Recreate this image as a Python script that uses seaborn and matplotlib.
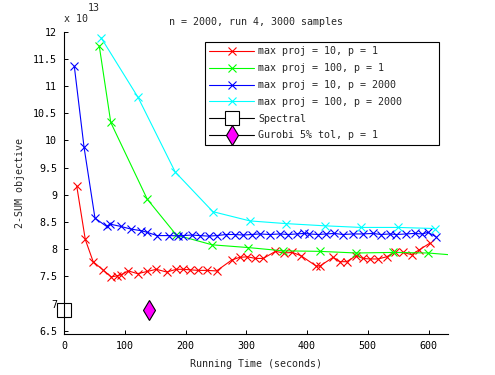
import numpy as np
import pandas as pd
import seaborn as sns
import matplotlib
matplotlib.use('Agg')
import matplotlib.pyplot as plt
from matplotlib.ticker import FormatStrFormatter

# values (y in units of 1e13)
red_t = [21, 35, 48, 64, 78, 87, 94, 106, 121, 137, 152, 169, 185, 196, 208, 221, 235, 251,
         276, 289, 302, 315, 328, 348, 362, 376, 390, 415, 421, 443, 454, 465, 481, 492,
         503, 517, 531, 544, 558, 572, 585, 602]
red_y = [9.16, 8.18, 7.77, 7.62, 7.49, 7.51, 7.53, 7.60, 7.55, 7.59, 7.63, 7.58, 7.63, 7.63,
         7.62, 7.61, 7.61, 7.60, 7.80, 7.85, 7.86, 7.83, 7.83, 7.96, 7.93, 7.94, 7.88, 7.69,
         7.69, 7.85, 7.77, 7.77, 7.88, 7.83, 7.82, 7.82, 7.86, 7.94, 7.94, 7.90, 7.99, 8.11]

green_t = [58, 77, 137, 185, 244, 303, 360, 421, 481, 541, 599, 632]
green_y = [11.74, 10.33, 8.92, 8.26, 8.08, 8.03, 7.97, 7.96, 7.93, 7.94, 7.93, 7.90]

blue_t = [17, 33, 51, 70, 76, 93, 110, 127, 137, 153, 172, 188, 196, 210, 224, 238, 251, 267,
          281, 295, 309, 322, 339, 355, 369, 383, 395, 404, 418, 432, 445, 459, 475, 492, 508,
          522, 536, 547, 563, 577, 590, 599, 612]
blue_y = [11.36, 9.875, 8.57, 8.42, 8.46, 8.42, 8.37, 8.34, 8.31, 8.25, 8.25, 8.245, 8.25, 8.26,
          8.25, 8.24, 8.25, 8.27, 8.27, 8.26, 8.27, 8.28, 8.27, 8.28, 8.27, 8.28, 8.29, 8.28,
          8.27, 8.28, 8.29, 8.27, 8.28, 8.28, 8.29, 8.27, 8.28, 8.27, 8.28, 8.29, 8.28, 8.31, 8.23]

cyan_t = [61, 122, 183, 245, 306, 366, 429, 489, 550, 610]
cyan_y = [11.89, 10.79, 9.42, 8.69, 8.52, 8.47, 8.43, 8.40, 8.40, 8.38]

spectral_t = [0]
spectral_y = [6.88]
gurobi_t = [140]
gurobi_y = [6.88]

sns.set_style('white')
plt.rcParams['font.family'] = ['DejaVu Sans Mono']
FS = 7.2
plt.rcParams['font.size'] = FS

fig = plt.figure(figsize=(4.95, 3.75), dpi=100)
ax = fig.add_axes([64 / 495, 41 / 375, 384 / 495, 302.3 / 375])

series = [
    (red_t, red_y, '#ff0000', 'max proj = 10, p = 1'),
    (green_t, green_y, '#00ff00', 'max proj = 100, p = 1'),
    (blue_t, blue_y, '#0000ff', 'max proj = 10, p = 2000'),
    (cyan_t, cyan_y, '#00ffff', 'max proj = 100, p = 2000'),
]
for t, y, c, lab in series:
    extra = {}
    if c == '#00ff00':
        extra['markevery'] = list(range(len(t) - 1))
    sns.lineplot(x=t, y=y, ax=ax, color=c, marker='x', markersize=6, mec=c, mew=0.8, lw=0.8,
                 label=lab, sort=False, estimator=None, **extra)

sns.lineplot(x=spectral_t, y=spectral_y, ax=ax, color='black', marker='s', markersize=10,
             mfc='white', mec='black', mew=0.8, lw=0.8, label='Spectral', clip_on=False)
sns.lineplot(x=gurobi_t, y=gurobi_y, ax=ax, color='black', marker='d', markersize=10,
             mfc='#ff00ff', mec='black', mew=0.8, lw=0.8, label='Gurobi 5% tol, p = 1')

ax.set_xlim(0, 632)
ax.set_ylim(6.44, 12)
ax.set_xticks(np.arange(0, 601, 100))
ax.set_yticks(np.arange(6.5, 12.01, 0.5))
ax.yaxis.set_major_formatter(FormatStrFormatter('%g'))
ax.tick_params(direction='in', length=3, width=0.7, pad=5, left=True, bottom=True,
               colors='black', labelsize=FS)
for s in ['top', 'right']:
    ax.spines[s].set_visible(False)
for s in ['left', 'bottom']:
    ax.spines[s].set_color('black')
    ax.spines[s].set_linewidth(0.8)

ax.set_title('n = 2000, run 4, 3000 samples', fontsize=FS, pad=5)
ax.set_xlabel('Running Time (seconds)', fontsize=FS, labelpad=6)
ax.set_ylabel('2-SUM objective', fontsize=FS, labelpad=6)

fig.text(64 / 495, 1 - 19 / 375, 'x 10', fontsize=FS, ha='left', va='center')
fig.text(88 / 495, 1 - 8 / 375, '13', fontsize=FS, ha='left', va='center')

handles, labels = ax.get_legend_handles_labels()
leg = ax.legend(handles, labels, loc='upper left', bbox_to_anchor=(0.367, 0.5, 0.6094, 0.466),
                mode='expand', borderaxespad=0, fontsize=FS, handlelength=4.5,
                handletextpad=0.35, labelspacing=0.68, borderpad=0.45, fancybox=False,
                framealpha=1)
leg.get_frame().set_edgecolor('black')
leg.get_frame().set_linewidth(0.8)

fig.savefig('out.png', dpi=100)
